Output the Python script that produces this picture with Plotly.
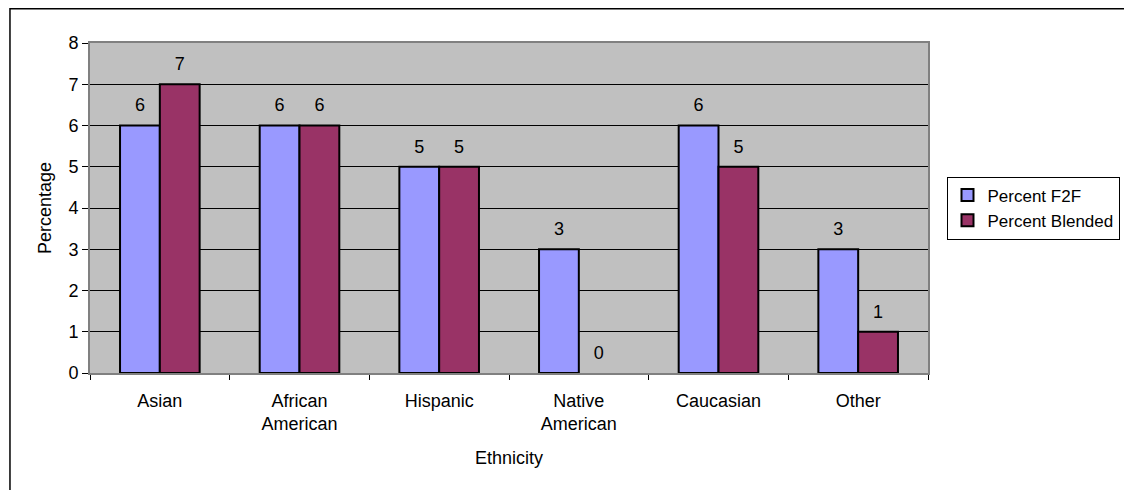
import plotly.graph_objects as go

categories = ["Asian", "African<br>American", "Hispanic", "Native<br>American", "Caucasian", "Other"]
f2f = [6, 6, 5, 3, 6, 3]
blended = [7, 6, 5, 0, 5, 1]
series_names = ["Percent F2F", "Percent Blended"]
y_ticks = [0, 1, 2, 3, 4, 5, 6, 7, 8]

FONT = "Liberation Sans, Arial, sans-serif"
FS = 18
colors = ["#9999FF", "#993366"]

fig = go.Figure()
for name, vals, col, grp in zip(series_names, [f2f, blended], colors, ["a", "b"]):
    fig.add_trace(go.Bar(
        x=categories, y=vals, name=name, offsetgroup=grp, legendgroup=grp,
        marker=dict(color=col, line=dict(color="black", width=[2 if v > 0 else 0 for v in vals])),
        hoverinfo="skip",
    ))
for vals, grp in zip([f2f, blended], ["a", "b"]):
    fig.add_trace(go.Scatter(
        x=categories, y=vals, mode="markers+text", text=[str(v) for v in vals],
        textposition="top center", offsetgroup=grp, showlegend=False,
        marker=dict(size=14, opacity=0), hoverinfo="skip",
        textfont=dict(family=FONT, size=FS, color="black"),
    ))

fig.update_layout(
    width=1124, height=482,
    margin=dict(l=82, r=204, t=35, b=117, autoexpand=False),
    paper_bgcolor="white", plot_bgcolor="#C0C0C0",
    barmode="group", bargap=0.43, bargroupgap=0,
    scattermode="group", scattergap=0.43,
    font=dict(family=FONT, size=FS, color="black"),
    showlegend=True,
    legend=dict(
        x=1.1253, xanchor="center", y=0.5, yanchor="middle",
        bordercolor="black", borderwidth=1, bgcolor="white",
        font=dict(family=FONT, size=17, color="black"),
        tracegroupgap=0, traceorder="grouped",
    ),
    shapes=[dict(
        type="rect", xref="paper", yref="paper",
        x0=-0.0955, x1=1.2351, y0=-0.4, y1=1.1038,
        line=dict(color="black", width=1.5), fillcolor="rgba(0,0,0,0)", layer="below",
    )],
)
fig.update_xaxes(
    type="category", showline=True, mirror=True, linecolor="#808080", linewidth=2,
    ticks="outside", tickson="boundaries", ticklen=5, tickcolor="black", tickwidth=1,
    ticklabelstandoff=10,
    showgrid=False, automargin=False,
    title=dict(text="Ethnicity", standoff=18, font=dict(family=FONT, size=FS)),
)
fig.update_yaxes(
    range=[0, 8], tickvals=y_ticks, showline=True, mirror=True, linecolor="#808080",
    linewidth=2, ticks="outside", ticklen=6, tickcolor="black", tickwidth=1,
    showgrid=True, gridcolor="black", gridwidth=1, zeroline=False, automargin=False,
    title=dict(text="Percentage", standoff=12, font=dict(family=FONT, size=FS)),
)

fig.write_html("out.html")
